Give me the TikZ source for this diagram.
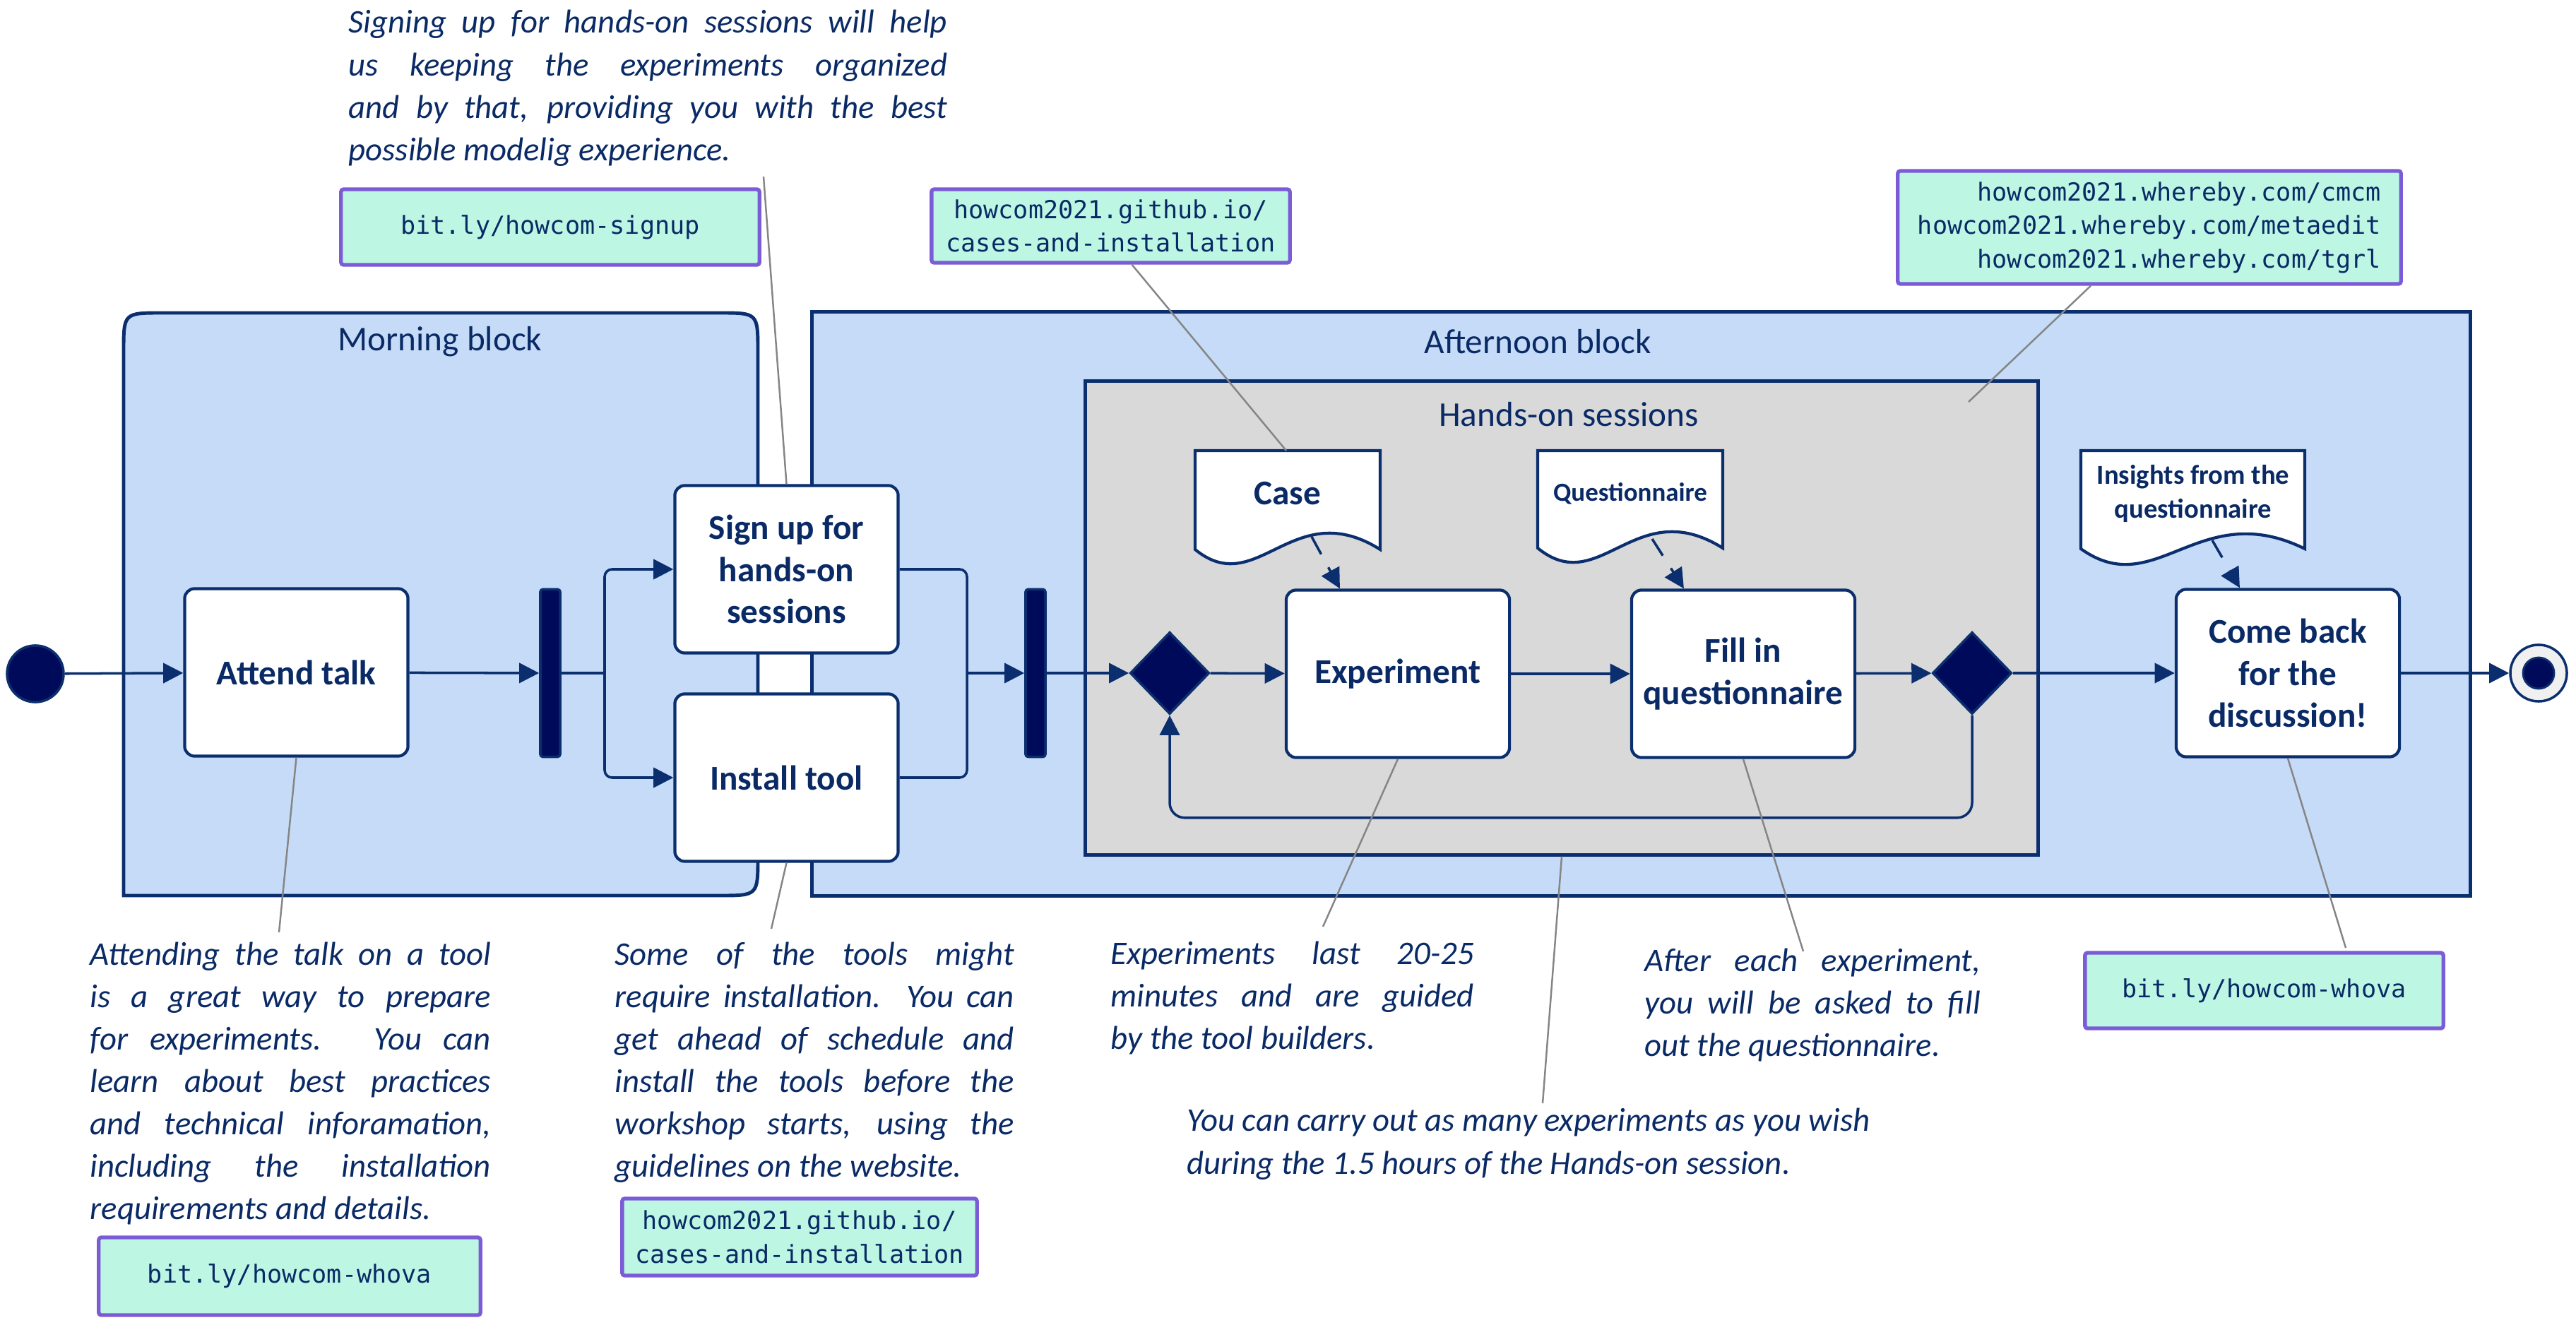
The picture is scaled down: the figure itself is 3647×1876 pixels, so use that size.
\documentclass[tikz,border=0pt]{standalone}
\usepackage{fontspec}
\setmainfont{Carlito}
\newfontfamily\monofam{DejaVu Sans Mono}
\usetikzlibrary{arrows.meta,shapes.geometric}
\definecolor{navy}{HTML}{0B2F6E}
\definecolor{ink}{HTML}{0A2A66}
\definecolor{barfill}{HTML}{000A5A}
\definecolor{blockfill}{HTML}{C5DBF7}
\definecolor{handsfill}{HTML}{D9D9D9}
\definecolor{mint}{HTML}{BDF7E3}
\definecolor{urlline}{HTML}{7B5BD6}
\definecolor{leadgray}{HTML}{858585}
\definecolor{ringfill}{HTML}{F0F0F0}
\tolerance=10000
\hyphenpenalty=10000
\tikzset{
  blockshape/.style={draw=navy, fill=blockfill, line width=1.4pt},
  act/.style={draw=navy, line width=1.2pt, fill=white, rounded corners=4pt, text=ink,
    font=\bfseries\fontsize{14}{17}\selectfont, align=center, inner sep=0pt,
    minimum width=3.16cm, minimum height=2.37cm},
  forkbar/.style={draw=navy, fill=barfill, line width=1pt, rounded corners=1pt,
    minimum width=0.28cm, minimum height=2.37cm, inner sep=0pt},
  decision/.style={diamond, draw=navy, fill=barfill, line width=1pt,
    minimum width=1.12cm, minimum height=1.16cm, inner sep=0pt},
  flow/.style={draw=navy, line width=1pt, -{Triangle[length=8pt,width=8pt]}},
  plainflow/.style={draw=navy, line width=1pt},
  dflow/.style={flow, dash pattern=on 8pt off 6pt},
  leader/.style={draw=leadgray, line width=0.7pt},
  urlbox/.style={draw=urlline, fill=mint, line width=1.5pt, text=ink,
    font=\monofam\fontsize{10}{13.5}\selectfont, inner sep=0pt, rounded corners=1pt},
  note/.style={text=ink, font=\itshape\fontsize{13.3}{17.07}\selectfont, align=justify,
    inner sep=0pt, anchor=base west},
  blocklabel/.style={text=ink, font=\fontsize{14}{17}\selectfont, inner sep=0pt},
  docshape/.style={draw=navy, fill=white, line width=1.2pt},
  doctext/.style={text=ink, font=\bfseries\fontsize{14}{17}\selectfont, align=center, inner sep=0pt},
}
\begin{document}
\begin{tikzpicture}[x=0.01cm, y=-0.01cm]
\useasboundingbox (0,0) rectangle (3647,1876);
% blocks
\path[blockshape] (175,1268) -- (175,498) .. controls (175,443) .. (230,443) -- (1018,443)
  .. controls (1073,443) .. (1073,498) -- (1073,1213) .. controls (1073,1268) .. (1018,1268) -- cycle;
\node[blockshape, minimum width=23.47cm, minimum height=8.26cm, inner sep=0pt] (afternoon) at (2323.5,855) {};
\node[draw=navy, fill=handsfill, line width=1.4pt, minimum width=13.48cm, minimum height=6.7cm, inner sep=0pt] (hands) at (2211,875) {};
\node[blocklabel] (morninglbl) at (623,484) {Morning block};
\node[blocklabel] (afternoonlbl) at (2177,484) {Afternoon block};
\node[blocklabel] (handslbl) at (2221,587) {Hands-on sessions};

% documents
\path[docshape] (1692,638) -- (1954,638) -- (1954,778) .. controls (1830,700) and (1780,850) .. (1692,778) -- cycle;
\path[docshape] (2177,638) -- (2439,638) -- (2439,776) .. controls (2315,698) and (2265,848) .. (2177,776) -- cycle;
\path[docshape] (2946,638) -- (3263,638) -- (3263,777) .. controls (3113,703) and (3052,853) .. (2946,777) -- cycle;
\node[doctext] (case) at (1823,699) {Case};
\node[doctext, font=\bfseries\fontsize{10.5}{13}\selectfont] (questionnaire) at (2308,699) {Questionnaire};
\node[doctext, font=\bfseries\fontsize{11}{13.7}\selectfont] (insights) at (3105,699) {Insights from the\\questionnaire};
\coordinate (caseout) at (1857,760);
\coordinate (questout) at (2339,763);
\coordinate (insout) at (3132,765);
\coordinate (casetop) at (1821,638);

% activities
\node[act] (attend) at (419.5,952) {Attend talk};
\node[act] (signup) at (1113.5,806) {Sign up for\\hands-on\\sessions};
\node[act] (install) at (1113.5,1101) {Install tool};
\node[act] (experiment) at (1979,954) {Experiment};
\node[act] (fill) at (2468,954) {Fill in\\questionnaire};
\node[act] (comeback) at (3239,953) {Come back\\for the\\discussion!};
\node[forkbar] (fork) at (779,953) {};
\node[forkbar] (join) at (1466,953) {};
\node[decision] (merge) at (1656,953) {};
\node[decision] (branch) at (2792,953) {};
\node[circle, draw=navy, fill=barfill, line width=1pt, minimum size=0.8cm, inner sep=0pt] (start) at (50,954) {};
\node[circle, draw=navy, fill=ringfill, line width=1pt, minimum size=0.8cm, inner sep=0pt] (end) at (3594,953) {};
\node[circle, draw=navy, fill=barfill, line width=0.8pt, minimum size=0.44cm, inner sep=0pt] (endcore) at (end) {};

% flows
\coordinate (splitpt) at (856,953);
\coordinate (mergept) at (1369,953);
\draw[flow] (start) -- (attend);
\draw[flow] (attend) -- (fork);
\draw[plainflow] (fork.east) -- (splitpt);
\draw[flow, rounded corners=3pt] (splitpt) |- (signup.west);
\draw[flow, rounded corners=3pt] (splitpt) |- (install.west);
\draw[plainflow, rounded corners=3pt] (signup.east) -| (mergept);
\draw[plainflow, rounded corners=3pt] (install.east) -| (mergept);
\draw[flow] (mergept) -- (join.west);
\draw[flow] (join) -- (merge);
\draw[flow] (merge) -- (experiment);
\draw[flow] (experiment) -- (fill);
\draw[flow] (fill) -- (branch);
\draw[flow] (branch) -- (comeback);
\draw[flow] (comeback) -- (end);
\draw[flow, rounded corners=6pt] (branch.south) -- ++(0,145) -| (merge.south);
\draw[dflow] (caseout) -- ([xshift=-0.82cm]experiment.north);
\draw[dflow] (questout) -- ([xshift=-0.84cm]fill.north);
\draw[dflow] (insout) -- ([xshift=-0.68cm]comeback.north);

% url boxes
\node[urlbox, minimum width=5.92cm, minimum height=1.07cm] (urlsignup) at (779,321.5) {bit.ly/howcom-signup};
\node[urlbox, minimum width=5.07cm, minimum height=1.04cm, align=center] (casestop) at (1572.5,320) {howcom2021.github.io/\\cases-and-installation};
\node[urlbox, minimum width=7.12cm, minimum height=1.6cm, align=right] (urltr) at (3043,322) {howcom2021.whereby.com/cmcm\\howcom2021.whereby.com/metaedit\\howcom2021.whereby.com/tgrl};
\node[urlbox, minimum width=5.4cm, minimum height=1.1cm] (whoval) at (410,1807) {bit.ly/howcom-whova};
\node[urlbox, minimum width=5.02cm, minimum height=1.09cm, align=center] (casesbot) at (1132,1751.5) {howcom2021.github.io/\\cases-and-installation};
\node[urlbox, minimum width=5.07cm, minimum height=1.07cm] (whovar) at (3205.5,1402.5) {bit.ly/howcom-whova};

% notes
\node[note, text width=8.47cm] (signnote) at (493,47) {Signing up for hands-on sessions will help\linebreak us keeping the experiments organized\linebreak and by that, providing you with the best\linebreak possible modelig experience.};
\node[note, text width=5.67cm] (attendnote) at (127,1366) {Attending the talk on a tool\linebreak is a great way to prepare\linebreak for experiments. You can\linebreak learn about best practices\linebreak and technical inforamation,\linebreak including the installation\linebreak requirements and details.};
\node[note, text width=5.65cm] (installnote) at (870,1366) {Some of the tools might\linebreak require installation. You can\linebreak get ahead of schedule and\linebreak install the tools before the\linebreak workshop starts, using the\linebreak guidelines on the website.};
\node[note, text width=5.14cm] (expnote) at (1572,1365) {Experiments last 20-25\linebreak minutes and are guided\linebreak by the tool builders.};
\node[note, text width=4.75cm] (fillnote) at (2328,1375) {After each experiment,\linebreak you will be asked to fill\linebreak out the questionnaire.};
\node[note, align=left] (carrynote) at (1680,1662) {You can carry out as many experiments as you wish\\during the 1.5 hours of the Hands-on session.};

% leaders
\coordinate (signlead) at (1081,250);
\coordinate (attendlead) at (395,1320);
\coordinate (installlead) at (1092,1315);
\coordinate (explead) at (1873,1312);
\coordinate (carrylead) at (2184,1562);
\coordinate (filllead) at (2553,1347);
\coordinate (cblead) at (3321,1342);
\coordinate (handslead) at (2787,569);
\draw[leader] (signlead) -- (signup.north);
\draw[leader] ([xshift=0.3cm]casestop.south) -- (casetop);
\draw[leader] ([xshift=-0.83cm]urltr.south) -- (handslead);
\draw[leader] (attend.south) -- (attendlead);
\draw[leader] (install.south) -- (installlead);
\draw[leader] (experiment.south) -- (explead);
\draw[leader] (hands.south) -- (carrylead);
\draw[leader] (fill.south) -- (filllead);
\draw[leader] (comeback.south) -- (cblead);
\end{tikzpicture}
\end{document}
